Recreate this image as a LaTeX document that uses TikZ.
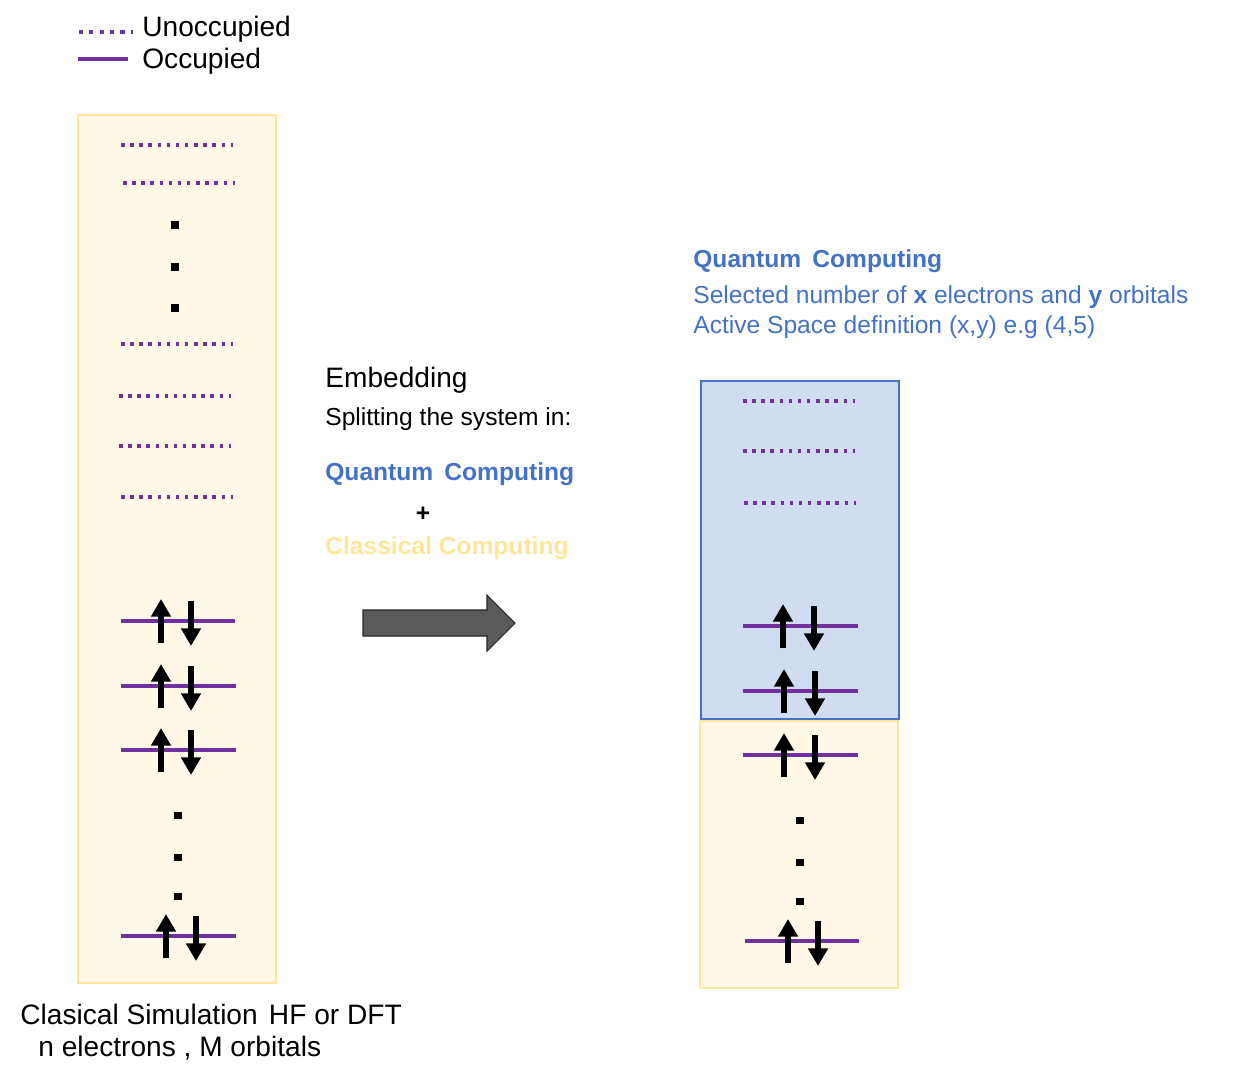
\documentclass[tikz,border=0pt]{standalone}
\usepackage{fontspec}
\setmainfont{Liberation Sans}
\usepackage{xcolor}
\usepackage{tikz}
\usetikzlibrary{arrows.meta,positioning}

\definecolor{orbpurple}{HTML}{7030A0}
\definecolor{qblue}{HTML}{4472C4}
\definecolor{cyellow}{HTML}{FFE699}
\definecolor{creamfill}{HTML}{FFF8E6}
\definecolor{bluefill}{HTML}{D0DCF0}
\definecolor{arrowgray}{HTML}{5A5A5A}

\begin{document}
\begin{tikzpicture}[x=0.02cm, y=-0.02cm,
  unocc/.style={orbpurple, line width=2pt, dash pattern=on 2pt off 3.2pt},
  occ/.style={orbpurple, line width=2.1pt},
  spin/.style={line width=3.6pt, -{Triangle[length=10pt,width=10.8pt]}},
  ellip/.style={fill=black, inner sep=0pt, minimum size=4pt},
  classbox/.style={draw=cyellow, fill=creamfill, line width=0.8pt},
  quantbox/.style={draw=qblue, fill=bluefill, line width=0.8pt},
  txt/.style={anchor=base west, inner sep=0pt},
  big/.style={font=\fontsize{16pt}{19pt}\selectfont},
  small/.style={font=\fontsize{14pt}{17pt}\selectfont}]
\useasboundingbox (0,0) rectangle (1260,1083);

% legend
\draw[orbpurple, line width=2.3pt, dash pattern=on 2.3pt off 3.6pt] (79,32) -- (133,32);
\draw[occ] (78,59) -- (128,59);
\node[txt, big] (unocclab) at (142,36) {Unoccupied};
\node[txt, big] (occlab) at (142,68) {Occupied};

% classical system
\draw[classbox] (78,115) rectangle (276,983);
\foreach \y/\a/\b in {145/121/233, 183/123/235, 344/121/233, 396/119/231, 446/119/231, 497/121/233}
  \draw[unocc] (\a,\y) -- (\b,\y);
\foreach \y in {225,267,308}
  \node[ellip] at (175,\y) {};
\foreach \y in {815,857,896}
  \node[ellip] at (178,\y) {};
\foreach \a/\b/\y/\u/\d in {121/235/621/161/191, 121/236/686/161/191, 121/236/750/161/191, 121/236/936/166/196}
{
  \draw[occ] (\a,\y) -- (\b,\y);
  \draw[spin] (\u,\y+22) -- (\u,\y-22);
  \draw[spin] (\d,\y-20) -- (\d,\y+25);
}
\node[txt, big] (classlab) at (20,1024) {Clasical Simulation\hspace{0.4em}HF or DFT};
\node[txt, big] (classsub) at (38,1056) {n electrons , M orbitals};

% embedding
\node[txt, big] (embed) at (325,387) {Embedding};
\node[txt, small] (split) at (325,425) {Splitting the system in:};
\node[txt, small, qblue] (qc) at (325,480) {\textbf{Quantum\hspace{0.45em}Computing}};
\node[small, inner sep=0pt] (plus) at (423,514) {\textbf{+}};
\node[txt, small, cyellow] (cc) at (325,554) {\textbf{Classical Computing}};
\draw[fill=arrowgray, draw=black!85, line width=0.6pt]
  (363,610) -- (487,610) -- (487,595) -- (515,623) -- (487,651) -- (487,636) -- (363,636) -- cycle;

% active space
\node[txt, small, qblue] (qctitle) at (693,267) {\textbf{Quantum\hspace{0.45em}Computing}};
\node[txt, small, qblue] (selected) at (693,303) {Selected number of \textbf{x} electrons and \textbf{y} orbitals};
\node[txt, small, qblue] (active) at (693,333) {Active Space definition (x,y) e.g (4,5)};

\draw[classbox] (700,721) rectangle (898,988);
\draw[quantbox] (701,381) rectangle (899,719);
\foreach \y/\a/\b in {401/743/855, 451/743/855, 503/744/856}
  \draw[unocc] (\a,\y) -- (\b,\y);
\foreach \y in {820,862,901}
  \node[ellip] at (800,\y) {};
\foreach \a/\b/\y/\u/\d in {743/858/626/783/814, 743/858/691/784/815, 743/858/755/784/815, 745/859/941/788/818}
{
  \draw[occ] (\a,\y) -- (\b,\y);
  \draw[spin] (\u,\y+22) -- (\u,\y-22);
  \draw[spin] (\d,\y-20) -- (\d,\y+25);
}
\end{tikzpicture}
\end{document}
